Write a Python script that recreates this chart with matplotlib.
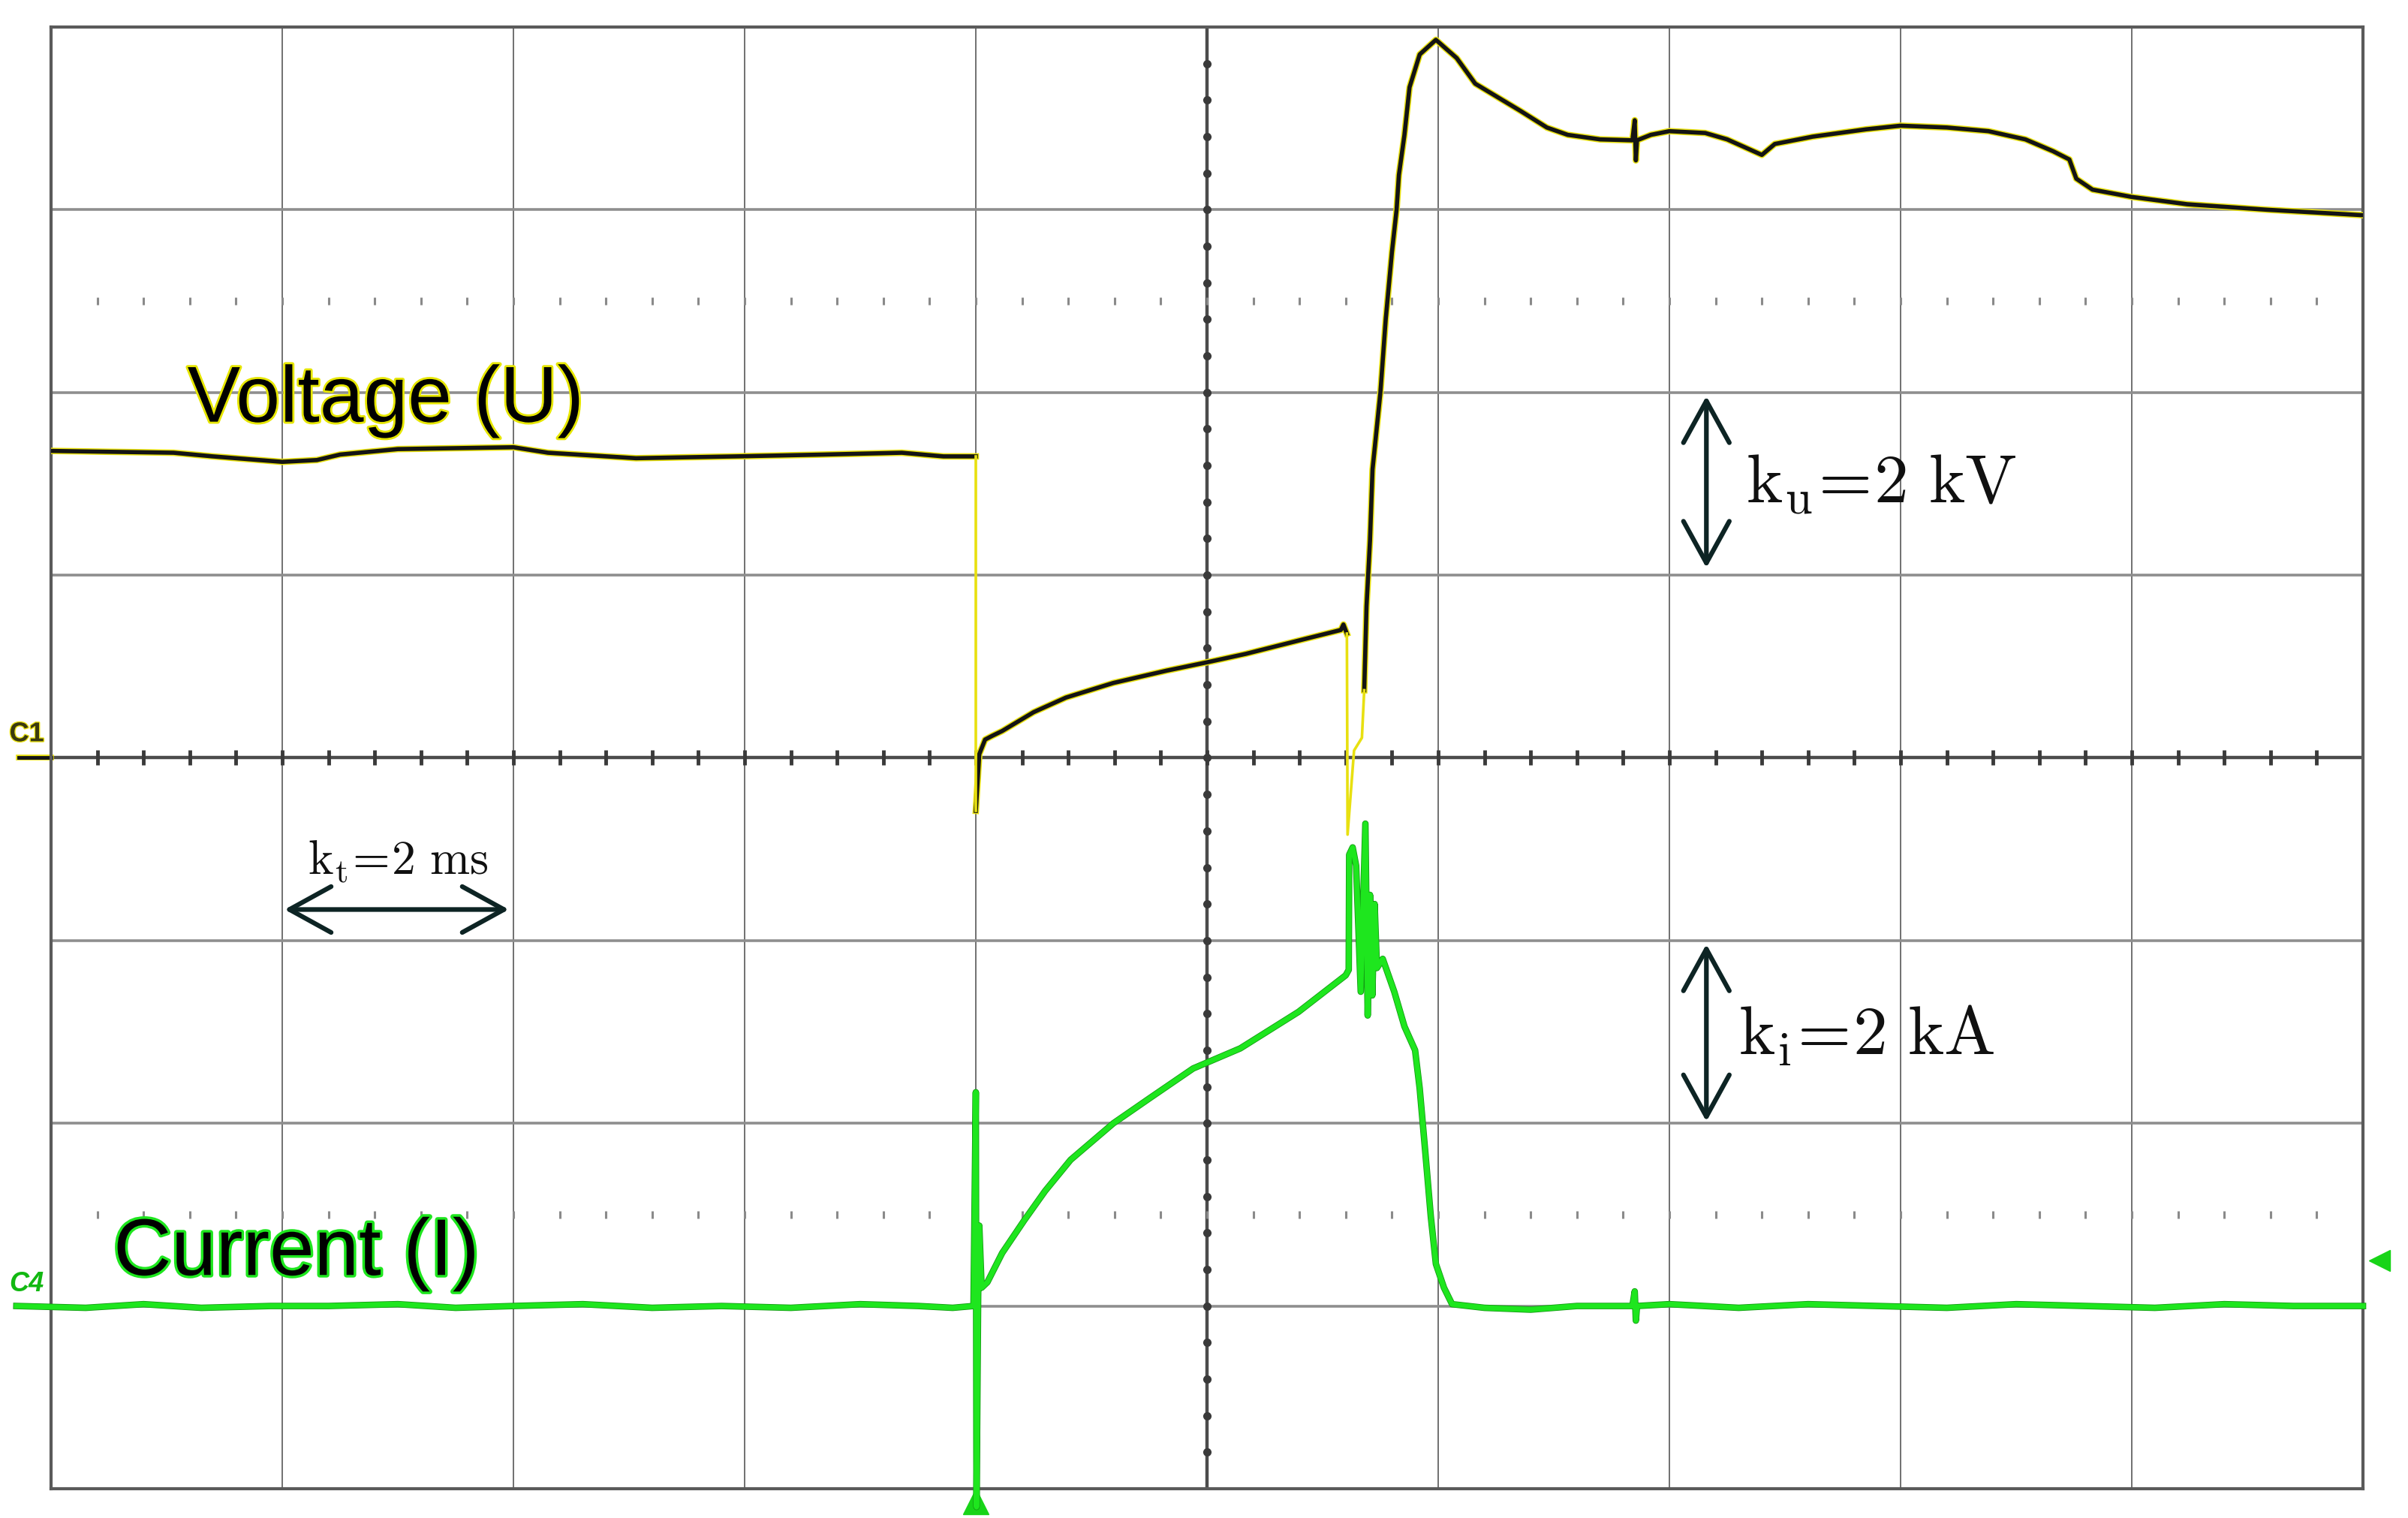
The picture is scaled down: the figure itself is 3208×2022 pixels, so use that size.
import numpy as np
import matplotlib.pyplot as plt
import matplotlib.patheffects as pe

plt.rcParams['mathtext.fontset'] = 'cm'
plt.rcParams['font.family'] = ['Liberation Sans', 'DejaVu Sans']

# ---------------------------------------------------
# TRACES (units = divisions)
# ---------------------------------------------------
volt_t = [-5.0, -4.47, -4.3, -4.0, -3.85, -3.75, -3.5, -3.0, -2.85, -2.47, -2.04, -1.66, -1.32, -1.14, -1.0,
          -1.0, -0.985, -0.96, -0.93, -0.886, -0.75, -0.61, -0.405, -0.176, 0.0, 0.167, 0.396, 0.579, 0.59, 0.605,
          0.608, 0.636, 0.67, 0.68, 0.69, 0.705, 0.716, 0.75, 0.773, 0.80, 0.82, 0.83, 0.854, 0.876, 0.92, 0.99,
          1.08, 1.16, 1.265, 1.357, 1.47, 1.56, 1.70, 1.84, 1.85, 1.855, 1.86, 1.92, 2.0, 2.155, 2.25, 2.40, 2.456, 2.62, 2.85,
          3.0, 3.20, 3.38, 3.54, 3.66, 3.73, 3.76, 3.83, 4.0, 4.24, 4.585, 5.0]
volt_u = [1.68, 1.67, 1.65, 1.62, 1.63, 1.66, 1.69, 1.70, 1.67, 1.64, 1.65, 1.66, 1.67, 1.65, 1.65,
          -0.29, 0.02, 0.10, 0.12, 0.147, 0.25, 0.33, 0.41, 0.477, 0.523, 0.569, 0.642, 0.70, 0.73, 0.68,
          -0.42, 0.04, 0.11, 0.37, 0.83, 1.19, 1.58, 2.0, 2.40, 2.77, 3.0, 3.19, 3.41, 3.67, 3.85, 3.93,
          3.83, 3.69, 3.61, 3.54, 3.45, 3.41, 3.385, 3.38, 3.49, 3.27, 3.38, 3.41, 3.43, 3.42, 3.385, 3.30, 3.36, 3.40, 3.44,
          3.46, 3.45, 3.43, 3.385, 3.32, 3.275, 3.17, 3.11, 3.07, 3.03, 3.0, 2.97]

curr_t = [-5.15, -4.85, -4.6, -4.35, -4.05, -3.8, -3.5, -3.25, -3.0, -2.7, -2.4, -2.1, -1.8, -1.5, -1.25, -1.1, -1.01,
          -1.0, -0.997, -0.99, -0.985, -0.975, -0.95, -0.886, -0.79, -0.70, -0.59, -0.405, -0.245, -0.06, 0.144, 0.396, 0.60,
          0.613, 0.615, 0.63, 0.645, 0.665, 0.685, 0.695, 0.705, 0.715, 0.725, 0.735, 0.76, 0.81, 0.854, 0.90, 0.92, 0.945,
          0.968, 0.99, 1.025, 1.06,
          1.2, 1.4, 1.6, 1.75, 1.84, 1.85, 1.855, 1.86, 2.0, 2.3, 2.6, 2.9, 3.2, 3.5, 3.8, 4.1, 4.4, 4.7, 5.0]
curr_i = [-3.0, -3.01, -2.99, -3.01, -3.0, -3.0, -2.99, -3.01, -3.0, -2.99, -3.01, -3.0, -3.01, -2.99, -3.0, -3.01, -3.0,
          -1.83, -4.1, -2.95, -2.56, -2.9, -2.87, -2.71, -2.53, -2.37, -2.20, -2.0, -1.86, -1.70, -1.59, -1.39, -1.19,
          -1.16, -0.53, -0.49, -0.59, -1.28, -0.36, -1.41, -0.75, -1.30, -0.80, -1.15, -1.10, -1.28, -1.47, -1.60, -1.81, -2.17,
          -2.51, -2.77, -2.90, -2.99,
          -3.01, -3.02, -3.0, -3.0, -3.0, -2.92, -3.08, -3.0, -2.99, -3.01, -2.99, -3.0, -3.01, -2.99, -3.0, -3.01, -2.99, -3.0, -3.0]

YELLOW = '#e8e010'
GREEN = '#1ee61e'

# ---------------------------------------------------
# SCREEN
# ---------------------------------------------------
fig = plt.figure(figsize=(32.08, 20.22), dpi=100)
ax = fig.add_axes([0.0212, 0.0193, 0.9601, 0.9629])
ax.set_xlim(-5, 5)
ax.set_ylim(-4, 4)
ax.set_xticks([])
ax.set_yticks([])
for s in ax.spines.values():
    s.set_color('#5a5a5a')
    s.set_linewidth(3)

for x in range(-4, 5):
    if x != 0:
        ax.axvline(x, color='#707070', lw=1.4, zorder=1)
for y in range(-3, 4):
    if y != 0:
        ax.axhline(y, color='#8e8e8e', lw=2.6, zorder=1)
ax.axhline(0, color='#4c4c4c', lw=3.2, zorder=1)
ax.axvline(0, color='#4c4c4c', lw=3.2, zorder=1)

minor_x = np.arange(-4.8, 4.81, 0.2)
minor_y = np.arange(-3.8, 3.81, 0.2)
ax.plot(minor_x, np.zeros_like(minor_x), ls='none', marker='|', ms=14, mew=3.5, color='#3a3a3a', zorder=2)
ax.plot(np.zeros_like(minor_y), minor_y, ls='none', marker='o', ms=7, color='#3a3a3a', zorder=2)
for y in (2.5, -2.5):
    ax.plot(minor_x, np.full_like(minor_x, y), ls='none', marker='|', ms=7, mew=2.2, color='#8a8a8a', zorder=1)

# ---------------------------------------------------
# VOLTAGE (black with yellow rim, fast edges in yellow)
# ---------------------------------------------------
rim = [pe.Stroke(linewidth=6.2, foreground=YELLOW), pe.Normal()]
for a, b in [(0, 15), (15, 30), (33, len(volt_t))]:
    ax.plot(volt_t[a:b], volt_u[a:b], color='#141414', lw=4.0, path_effects=rim, zorder=5)
for a, b in [(14, 16), (29, 34)]:
    ax.plot(volt_t[a:b], volt_u[a:b], color=YELLOW, lw=2.6, zorder=5)

# ---------------------------------------------------
# CURRENT
# ---------------------------------------------------
ax.plot(curr_t, curr_i, color=GREEN, lw=5.0, zorder=6, clip_on=False,
        path_effects=[pe.Stroke(linewidth=6.2, foreground='#139a13'), pe.Normal()])

# ---------------------------------------------------
# CHANNEL MARKERS
# ---------------------------------------------------
ax.plot([-5.14, -5.0], [0, 0], color='#141414', lw=3.5, clip_on=False,
        path_effects=[pe.Stroke(linewidth=5.5, foreground=YELLOW), pe.Normal()])
ax.text(-5.18, 0.13, 'C1', fontsize=26, fontweight='bold', color='#3a3a10', va='center', ha='left',
        path_effects=[pe.withStroke(linewidth=2, foreground=YELLOW)])
ax.text(-5.18, -2.88, 'C4', fontsize=26, fontweight='bold', fontstyle='italic', color='#12b812',
        va='center', ha='left')
ax.plot([-1.0], [-4.07], marker='^', ms=24, color='#18d418', clip_on=False)
ax.plot([5.07], [-2.75], marker='<', ms=20, color='#18d418', clip_on=False)

# ---------------------------------------------------
# LABELS
# ---------------------------------------------------
ax.text(-4.41, 1.84, 'Voltage (U)', fontsize=76, color='black', ha='left', va='baseline', zorder=7,
        path_effects=[pe.withStroke(linewidth=4, foreground='#e6e600')])
ax.text(-4.73, -2.83, 'Current (I)', fontsize=77, color='black', ha='left', va='baseline', zorder=7,
        path_effects=[pe.withStroke(linewidth=5, foreground=GREEN)])

ax.text(2.33, 1.395, r'$\mathrm{k_{u}}\!=\!\mathrm{2\ kV}$', fontsize=66, color='#101010',
        ha='left', va='baseline')
ax.text(2.30, -1.62, r'$\mathrm{k_{i}}\!=\!\mathrm{2\ kA}$', fontsize=66, color='#101010',
        ha='left', va='baseline')
ax.text(-3.50, -0.635, r'$\mathrm{k_{t}}\!=\!\mathrm{2\ ms}$', fontsize=46, color='#101010',
        ha='center', va='baseline')

arrow = dict(arrowstyle='<->, head_length=2.0, head_width=1.1', mutation_scale=20,
             lw=4.5, color='#0d2424', shrinkA=0, shrinkB=0)
ax.annotate('', xy=(2.16, 1.98), xytext=(2.16, 1.04), arrowprops=arrow)
ax.annotate('', xy=(2.16, -1.02), xytext=(2.16, -1.99), arrowprops=arrow)
ax.annotate('', xy=(-3.99, -0.83), xytext=(-3.02, -0.83), arrowprops=arrow)

fig.savefig('out.png', dpi=100, facecolor='white')
